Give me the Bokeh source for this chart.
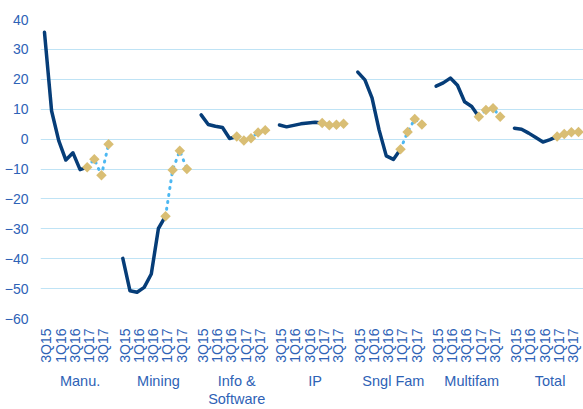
import math

from bokeh.embed import file_html
from bokeh.models import FixedTicker, LinearAxis, Range1d
from bokeh.plotting import figure
from bokeh.resources import INLINE

# Categories
groups = ["Manu.", "Mining", "Info &\nSoftware", "IP", "Sngl Fam", "Multifam", "Total"]
quarters = ["3Q15", "4Q15", "1Q16", "2Q16", "3Q16", "4Q16", "1Q17", "2Q17", "3Q17", "4Q17"]
labeled_quarters = ["3Q15", "1Q16", "3Q16", "1Q17", "3Q17"]

# Reported values (solid line), from 3Q15 onward
manu_actual = [35.7, 9.4, -0.5, -7.0, -4.6, -10.2]
mining_actual = [-39.9, -50.7, -51.2, -49.6, -45.1, -29.9]
info_actual = [8.1, 4.9, 4.3, 3.9, 0.2]
ip_actual = [4.7, 4.1, 4.6, 5.1, 5.4, 5.6]
sngl_actual = [22.4, 19.8, 13.8, 3.0, -5.6, -6.8]
multi_actual = [17.7, 18.8, 20.4, 18.0, 12.5, 10.9]
total_actual = [3.6, 3.3, 2.0, 0.5, -1.0, -0.2]

# Projected values (diamonds), continuing after the reported quarters through 4Q17
manu_forecast = [-9.4, -6.7, -12.1, -1.7]
mining_forecast = [-25.8, -10.3, -3.9, -10.0]
info_forecast = [0.9, -0.5, 0.3, 2.2, 3.0]
ip_forecast = [5.4, 4.6, 4.8, 5.1]
sngl_forecast = [-3.4, 2.4, 6.7, 4.9]
multi_forecast = [7.5, 9.7, 10.3, 7.5]
total_forecast = [0.9, 1.7, 2.3, 2.4]

actuals = [manu_actual, mining_actual, info_actual, ip_actual,
           sngl_actual, multi_actual, total_actual]
forecasts = [manu_forecast, mining_forecast, info_forecast, ip_forecast,
             sngl_forecast, multi_forecast, total_forecast]

# Styling
NAVY = "#063D78"
TAN = "#D9BE74"
SKY = "#4DB8F2"
GRID = "#BFE3F5"
TEXT = "#2E62B6"
FONT = "Liberation Sans"

SLOTS = len(quarters) + 1  # one blank slot between groups

p = figure(
    width=583, height=409,
    x_range=Range1d(-0.56, 75.7), y_range=Range1d(-60, 40),
    x_axis_type=None,
    output_backend="svg", toolbar_location=None,
    min_border_left=40, min_border_right=0,
    min_border_top=19, min_border_bottom=88,
)
p.outline_line_color = None
p.background_fill_color = "white"
p.border_fill_color = "white"

yticks = list(range(-60, 41, 10))
p.yaxis.ticker = FixedTicker(ticks=yticks)
p.yaxis.axis_line_color = None
p.yaxis.major_tick_line_color = None
p.yaxis.major_tick_out = 0
p.yaxis.major_tick_in = 0
p.yaxis.minor_tick_line_color = None
p.yaxis.minor_tick_out = 0
p.yaxis.major_label_standoff = 12
p.yaxis.major_label_text_font = FONT
p.yaxis.major_label_text_font_size = "14px"
p.yaxis.major_label_text_color = TEXT
p.ygrid.ticker = FixedTicker(ticks=yticks)
p.ygrid.grid_line_color = GRID
p.ygrid.grid_line_width = 1

for g, (act, fc) in enumerate(zip(actuals, forecasts)):
    base = g * SLOTS
    n_act = len(act)
    fx = [base + n_act + i for i in range(len(fc))]
    # solid reported line, joined to the first projected point
    ax = [base + i for i in range(n_act)] + [fx[0]]
    ay = list(act) + [fc[0]]
    p.line(ax, ay, line_color=NAVY, line_width=3.5, line_join="round", line_cap="round")
    # dotted path through the projections, diamonds on top
    p.line(fx, fc, line_color=SKY, line_width=3, line_dash="1 6", line_cap="round")
    p.scatter(fx, fc, marker="square", size=7.4, angle=math.pi / 4,
              fill_color=TAN, line_color=None)

# Quarter tick labels (every other quarter)
qticks, qlabels = [], {}
for g in range(len(groups)):
    for q in labeled_quarters:
        t = g * SLOTS + quarters.index(q) + 0.25
        qticks.append(t)
        qlabels[t] = q

qaxis = LinearAxis(
    ticker=FixedTicker(ticks=qticks),
    major_label_overrides=qlabels,
    major_label_orientation=math.pi / 2,
    axis_line_color=None, major_tick_line_color=None, minor_tick_line_color=None,
    major_tick_out=0, major_tick_in=0, minor_tick_out=0,
    major_label_standoff=10,
    major_label_text_font=FONT, major_label_text_font_size="14px",
    major_label_text_color=TEXT,
)
p.add_layout(qaxis, "below")

# Group names underneath the quarter labels
gticks = [g * SLOTS + 5 for g in range(len(groups))]
gaxis = LinearAxis(
    ticker=FixedTicker(ticks=gticks),
    major_label_overrides={t: name for t, name in zip(gticks, groups)},
    axis_line_color=None, major_tick_line_color=None, minor_tick_line_color=None,
    major_tick_out=0, major_tick_in=0, minor_tick_out=0,
    major_label_standoff=7,
    major_label_text_font=FONT, major_label_text_font_size="14.5px",
    major_label_text_line_height=1.15,
    major_label_text_color=TEXT,
)
p.add_layout(gaxis, "below")

open("out.html", "w").write(file_html(p, INLINE))
